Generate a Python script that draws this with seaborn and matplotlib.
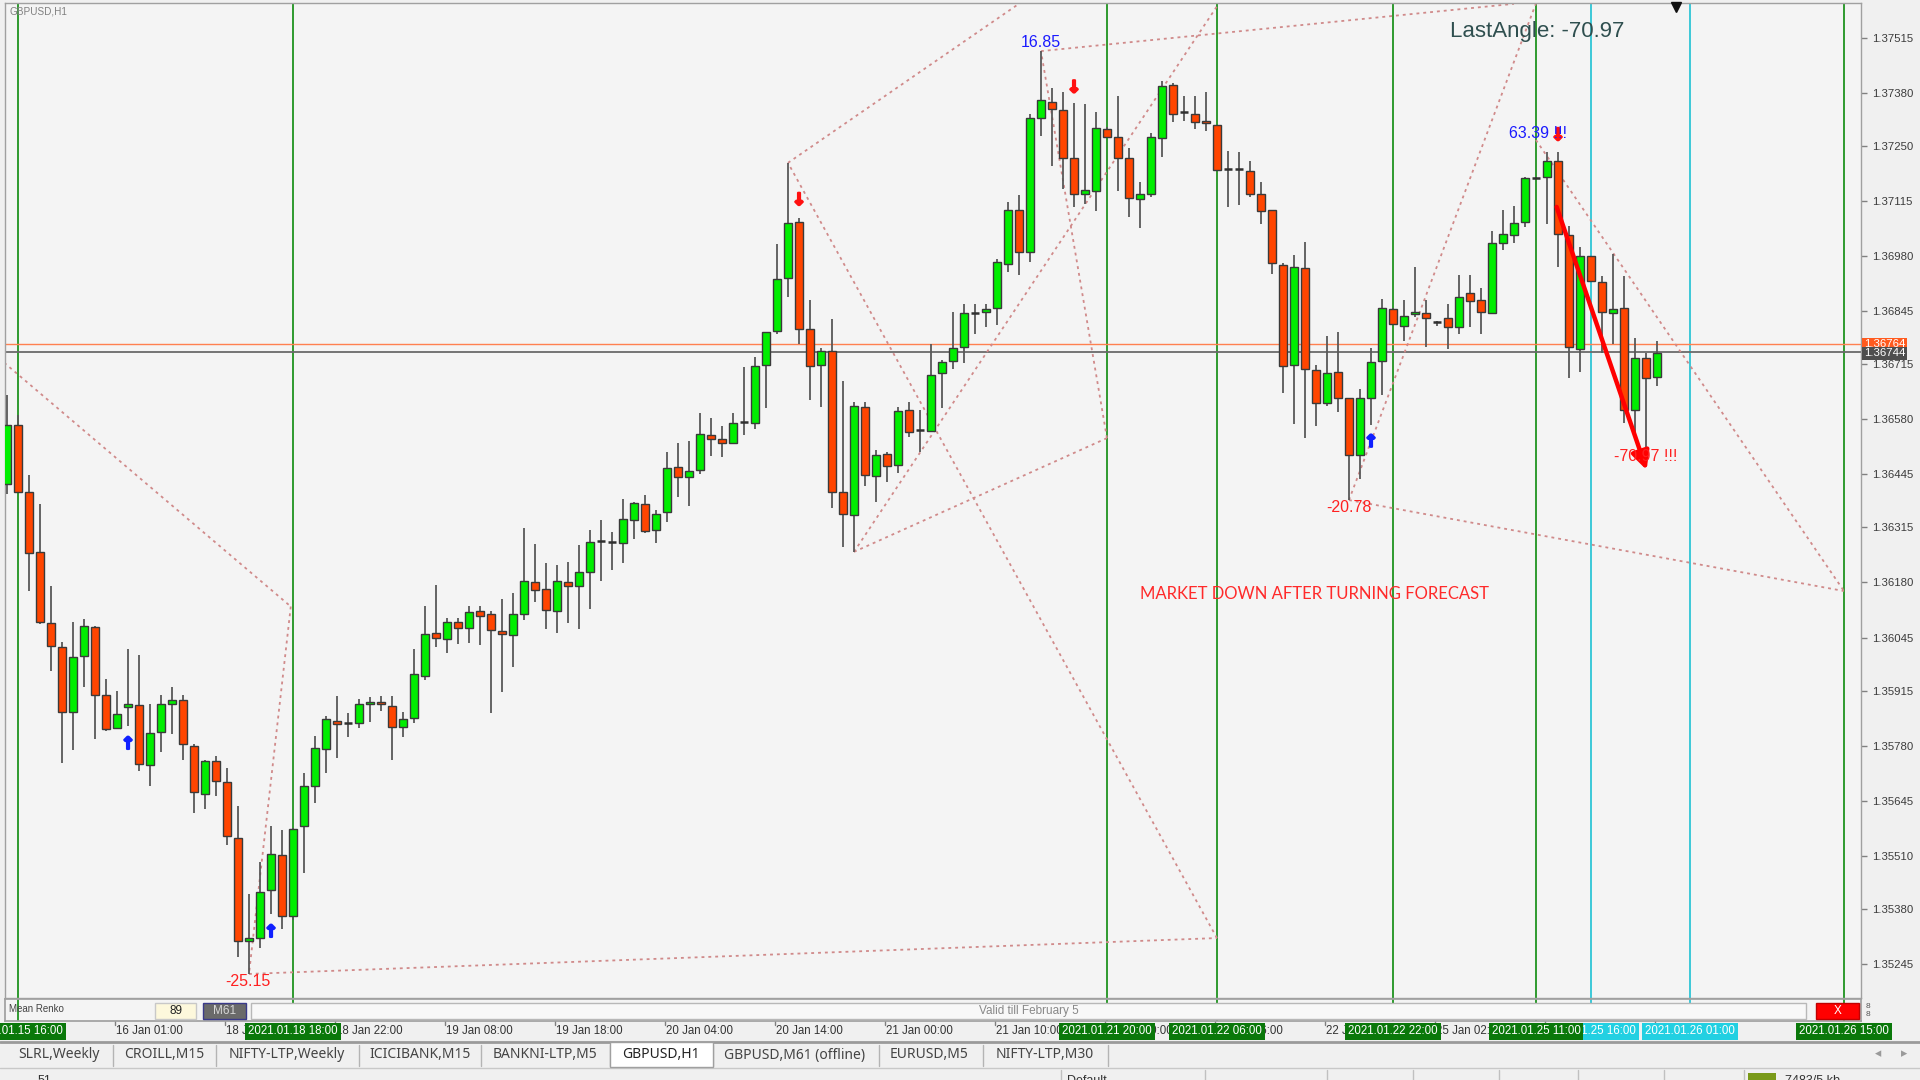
import matplotlib
matplotlib.use("Agg")
import matplotlib.pyplot as plt
import matplotlib.transforms as mtransforms
import matplotlib.patheffects as pe
from matplotlib.patches import Rectangle
import numpy as np
import pandas as pd
import seaborn as sns

# ---------------- data (GBPUSD H1 candles, bar index 0..150) ----------------
opens = [1.36421, 1.36566, 1.36402, 1.36254, 1.36081, 1.36022, 1.35862, 1.35999, 1.36071, 1.35903,
         1.35822, 1.35874, 1.35879, 1.35733, 1.35814, 1.35883, 1.35893, 1.35780, 1.35661, 1.35742,
         1.35691, 1.35553, 1.35302, 1.35309, 1.35426, 1.35511, 1.35361, 1.35584, 1.35681, 1.35771,
         1.35840, 1.35835, 1.35835, 1.35882, 1.35888, 1.35878, 1.35826, 1.35847, 1.35951, 1.36057,
         1.36041, 1.36084, 1.36069, 1.36110, 1.36103, 1.36061, 1.36051, 1.36102, 1.36180, 1.36163,
         1.36111, 1.36180, 1.36172, 1.36206, 1.36282, 1.36280, 1.36278, 1.36333, 1.36372, 1.36309,
         1.36352, 1.36462, 1.36439, 1.36456, 1.36541, 1.36533, 1.36521, 1.36574, 1.36572, 1.36713,
         1.36797, 1.36926, 1.37063, 1.36802, 1.36713, 1.36748, 1.36401, 1.36345, 1.36611, 1.36442,
         1.36494, 1.36468, 1.36603, 1.36554, 1.36552, 1.36693, 1.36723, 1.36758, 1.36842, 1.36843,
         1.36854, 1.36961, 1.37093, 1.36991, 1.37320, 1.37359, 1.37338, 1.37222, 1.37133, 1.37141,
         1.37291, 1.37273, 1.37222, 1.37120, 1.37132, 1.37271, 1.37401, 1.37333, 1.37330, 1.37311,
         1.37303, 1.37193, 1.37193, 1.37189, 1.37133, 1.37093, 1.36958, 1.36713, 1.36952, 1.36700,
         1.36619, 1.36696, 1.36632, 1.36492, 1.36633, 1.36724, 1.36851, 1.36810, 1.36838, 1.36841,
         1.36819, 1.36828, 1.36807, 1.36889, 1.36873, 1.36842, 1.37013, 1.37031, 1.37063, 1.37172,
         1.37175, 1.37213, 1.37032, 1.36752, 1.36980, 1.36917, 1.36842, 1.36852, 1.36603, 1.36731,
         1.36683]
highs = [1.36640, 1.36591, 1.36444, 1.36372, 1.36172, 1.36034, 1.36083, 1.36090, 1.36074, 1.35944,
         1.35914, 1.36017, 1.36003, 1.35883, 1.35905, 1.35924, 1.35905, 1.35783, 1.35745, 1.35755,
         1.35724, 1.35633, 1.35417, 1.35494, 1.35583, 1.35573, 1.35578, 1.35712, 1.35803, 1.35852,
         1.35901, 1.35861, 1.35894, 1.35898, 1.35901, 1.35901, 1.35863, 1.36018, 1.36123, 1.36174,
         1.36094, 1.36092, 1.36122, 1.36122, 1.36111, 1.36139, 1.36153, 1.36314, 1.36274, 1.36227,
         1.36223, 1.36231, 1.36273, 1.36309, 1.36333, 1.36304, 1.36384, 1.36378, 1.36394, 1.36358,
         1.36499, 1.36521, 1.36528, 1.36595, 1.36584, 1.36564, 1.36595, 1.36709, 1.36734, 1.36795,
         1.37011, 1.37209, 1.37073, 1.36873, 1.36754, 1.36825, 1.36675, 1.36622, 1.36622, 1.36505,
         1.36500, 1.36611, 1.36623, 1.36603, 1.36765, 1.36725, 1.36844, 1.36863, 1.36863, 1.36863,
         1.36973, 1.37114, 1.37130, 1.37329, 1.37483, 1.37392, 1.37383, 1.37355, 1.37353, 1.37334,
         1.37298, 1.37374, 1.37245, 1.37163, 1.37281, 1.37410, 1.37404, 1.37374, 1.37374, 1.37383,
         1.37303, 1.37239, 1.37235, 1.37213, 1.37161, 1.37093, 1.36963, 1.36983, 1.37014, 1.36713,
         1.36784, 1.36793, 1.36633, 1.36654, 1.36754, 1.36874, 1.36852, 1.36873, 1.36953, 1.36873,
         1.36822, 1.36863, 1.36934, 1.36934, 1.36901, 1.37043, 1.37093, 1.37103, 1.37175, 1.37174,
         1.37235, 1.37235, 1.37054, 1.37003, 1.36980, 1.36932, 1.36985, 1.36932, 1.36779, 1.36742,
         1.36773]
lows = [1.36397, 1.36399, 1.36160, 1.36078, 1.35964, 1.35738, 1.35769, 1.35924, 1.35797, 1.35816,
        1.35820, 1.35828, 1.35717, 1.35681, 1.35764, 1.35808, 1.35745, 1.35614, 1.35625, 1.35656,
        1.35536, 1.35262, 1.35220, 1.35283, 1.35367, 1.35329, 1.35352, 1.35468, 1.35638, 1.35712,
        1.35749, 1.35800, 1.35822, 1.35839, 1.35865, 1.35745, 1.35800, 1.35835, 1.35941, 1.36021,
        1.36006, 1.36028, 1.36031, 1.36027, 1.35861, 1.35912, 1.35973, 1.36088, 1.36133, 1.36065,
        1.36057, 1.36080, 1.36065, 1.36115, 1.36184, 1.36210, 1.36227, 1.36286, 1.36302, 1.36278,
        1.36329, 1.36390, 1.36368, 1.36446, 1.36490, 1.36488, 1.36519, 1.36542, 1.36556, 1.36609,
        1.36789, 1.36879, 1.36765, 1.36627, 1.36611, 1.36363, 1.36266, 1.36255, 1.36417, 1.36378,
        1.36427, 1.36448, 1.36537, 1.36501, 1.36550, 1.36607, 1.36703, 1.36719, 1.36789, 1.36807,
        1.36811, 1.36941, 1.36934, 1.36967, 1.37275, 1.37201, 1.37146, 1.37101, 1.37108, 1.37092,
        1.37269, 1.37140, 1.37075, 1.37050, 1.37126, 1.37224, 1.37308, 1.37312, 1.37292, 1.37288,
        1.37191, 1.37100, 1.37106, 1.37126, 1.37059, 1.36936, 1.36645, 1.36568, 1.36535, 1.36564,
        1.36613, 1.36599, 1.36382, 1.36433, 1.36566, 1.36640, 1.36811, 1.36773, 1.36832, 1.36757,
        1.36809, 1.36752, 1.36789, 1.36807, 1.36789, 1.36840, 1.36995, 1.37013, 1.37052, 1.37171,
        1.37058, 1.36953, 1.36681, 1.36697, 1.36920, 1.36742, 1.36764, 1.36572, 1.36543, 1.36510,
        1.36662]
closes = [1.36566, 1.36402, 1.36252, 1.36083, 1.36024, 1.35863, 1.35997, 1.36074, 1.35905, 1.35820,
          1.35858, 1.35881, 1.35734, 1.35811, 1.35881, 1.35891, 1.35785, 1.35665, 1.35743, 1.35694,
          1.35558, 1.35302, 1.35308, 1.35421, 1.35513, 1.35363, 1.35576, 1.35681, 1.35773, 1.35844,
          1.35833, 1.35835, 1.35883, 1.35888, 1.35881, 1.35826, 1.35844, 1.35955, 1.36053, 1.36043,
          1.36082, 1.36069, 1.36108, 1.36098, 1.36063, 1.36053, 1.36103, 1.36184, 1.36161, 1.36112,
          1.36184, 1.36171, 1.36205, 1.36280, 1.36282, 1.36280, 1.36335, 1.36374, 1.36307, 1.36348,
          1.36460, 1.36438, 1.36453, 1.36544, 1.36531, 1.36523, 1.36572, 1.36574, 1.36712, 1.36793,
          1.36924, 1.37061, 1.36801, 1.36711, 1.36747, 1.36403, 1.36348, 1.36613, 1.36443, 1.36492,
          1.36466, 1.36601, 1.36548, 1.36554, 1.36689, 1.36721, 1.36756, 1.36841, 1.36842, 1.36851,
          1.36965, 1.37093, 1.36991, 1.37318, 1.37363, 1.37340, 1.37220, 1.37132, 1.37142, 1.37294,
          1.37272, 1.37222, 1.37123, 1.37132, 1.37273, 1.37397, 1.37330, 1.37333, 1.37308, 1.37307,
          1.37191, 1.37193, 1.37193, 1.37132, 1.37092, 1.36963, 1.36711, 1.36953, 1.36703, 1.36621,
          1.36694, 1.36632, 1.36492, 1.36632, 1.36721, 1.36852, 1.36813, 1.36833, 1.36844, 1.36828,
          1.36819, 1.36807, 1.36881, 1.36870, 1.36844, 1.37012, 1.37034, 1.37061, 1.37173, 1.37172,
          1.37214, 1.37034, 1.36757, 1.36981, 1.36920, 1.36844, 1.36851, 1.36603, 1.36730, 1.36682,
          1.36742]

price_ticks = [1.37515, 1.37380, 1.37250, 1.37115, 1.36980, 1.36845, 1.36715, 1.36580, 1.36445,
               1.36315, 1.36180, 1.36045, 1.35915, 1.35780, 1.35645, 1.35510, 1.35380, 1.35245]
ask_price = 1.36764
bid_price = 1.36744

time_label_bars = [10, 20, 30, 40, 50, 60, 70, 80, 90, 100, 110, 120, 130, 140, 150]
time_labels = ["16 Jan 01:00", "18 Jan 12:00", "18 Jan 22:00", "19 Jan 08:00", "19 Jan 18:00",
               "20 Jan 04:00", "20 Jan 14:00", "21 Jan 00:00", "21 Jan 10:00", "21 Jan 20:00",
               "22 Jan 06:00", "22 Jan 16:00", "25 Jan 02:00", "25 Jan 12:00", "25 Jan 22:00"]

vline_bars = [1, 26, 100, 110, 126, 144, 139, 153, 167]
vline_labels = ["2021.01.15 16:00", "2021.01.18 18:00", "2021.01.21 20:00", "2021.01.22 06:00",
                "2021.01.22 22:00", "2021.01.25 16:00", "2021.01.25 11:00", "2021.01.26 01:00",
                "2021.01.26 15:00"]
vline_kinds = ["g", "g", "g", "g", "g", "c", "g", "c", "g"]

# zigzag / angle dotted lines: (bar, price) -> (bar, price)
angle_segments = [
    ((-1.0, 1.36736), (25.8, 1.36121)),
    ((25.8, 1.36121), (22.0, 1.35220)),
    ((22.0, 1.35220), (110.0, 1.35308)),
    ((110.0, 1.35308), (71.0, 1.37209)),
    ((71.0, 1.37209), (92.1, 1.37601)),
    ((77.0, 1.36255), (110.2, 1.37601)),
    ((77.0, 1.36255), (100.0, 1.36534)),
    ((100.0, 1.36534), (94.0, 1.37483)),
    ((94.0, 1.37483), (137.0, 1.37599)),
    ((122.0, 1.36382), (139.0, 1.37600)),
    ((122.0, 1.36382), (167.0, 1.36159)),
    ((139.0, 1.37265), (167.0, 1.36159)),
]
angle_arrow = [(140.88, 1.37101), (149.06, 1.36456)]

value_labels = [("16.85", 94.0, 1.37505, "#1a1aff"),
                ("-25.15", 21.9, 1.35201, "#ff2020"),
                ("-20.78", 122.0, 1.36363, "#ff2020"),
                ("63.39 !!!", 139.2, 1.37282, "#1a1aff"),
                ("-70.97 !!!", 149.0, 1.36489, "#ff2020")]
up_signal_bars = [11, 24, 124]
up_signal_prices = [1.35784, 1.35323, 1.36525]
down_signal_bars = [72, 97, 141]
down_signal_prices = [1.37118, 1.37394, 1.37277]

tabs = ["SLRL,Weekly", "CROILL,M15", "NIFTY-LTP,Weekly", "ICICIBANK,M15", "BANKNI-LTP,M5",
        "GBPUSD,H1", "GBPUSD,M61 (offline)", "EURUSD,M5", "NIFTY-LTP,M30"]
active_tab = "GBPUSD,H1"

# ---------------- style ----------------
sns.set_theme(style="white")
plt.rcParams['font.family'] = ['Liberation Sans', 'DejaVu Sans']

W, H = 1920, 1080
def rect(x0, y0, x1, y1):
    return [x0 / W, 1 - y1 / H, (x1 - x0) / W, (y1 - y0) / H]
def fy(y):
    return 1 - y / H
def fx(x):
    return x / W

fig = plt.figure(figsize=(19.2, 10.8), dpi=100, facecolor='#f0f0f0')
ax = fig.add_axes(rect(5, 3, 1861, 998))
ax.set_facecolor('#f4f4f4')
XLIM = (-0.18, 168.55)
ax.set_xlim(*XLIM)
ax.set_ylim(1.35161, 1.37601)

df = pd.DataFrame(dict(i=np.arange(len(opens)), o=opens, h=highs, l=lows, c=closes))

GREEN_LINE = '#2f9a2f'
CYAN_LINE = '#3cc8d8'
GREEN_BOX = '#0a780a'
CYAN_BOX = '#22d0e2'

# vertical lines
for b, k in zip(vline_bars, vline_kinds):
    ax.axvline(b, color=GREEN_LINE if k == "g" else CYAN_LINE, lw=1.4, zorder=1)

# bid / ask lines
ax.axhline(ask_price, color='#ff8050', lw=1.0, zorder=1)
ax.axhline(bid_price, color='#6a6a6a', lw=1.3, zorder=1)

# dotted angle lines
for (x0, y0), (x1, y1) in angle_segments:
    sns.lineplot(x=[x0, x1], y=[y0, y1], ax=ax, color='#d08a8a', lw=1.3,
                 linestyle=(0, (1.6, 2.2)), sort=False, estimator=None, legend=False, zorder=2)

# candles
ax.vlines(df.i, df.l, df.h, colors='#585858', lw=1.3, zorder=3)
up = df.c > df.o
dn = df.c < df.o
dj = df.c == df.o
ax.bar(df.i[up], (df.c - df.o)[up], bottom=df.o[up], width=0.66, color='#00ee00',
       edgecolor='#3a3a3a', linewidth=1.0, zorder=4)
ax.bar(df.i[dn], (df.o - df.c)[dn], bottom=df.c[dn], width=0.66, color='#ff4500',
       edgecolor='#3a3a3a', linewidth=1.0, zorder=4)
ax.hlines(df.o[dj], df.i[dj] - 0.33, df.i[dj] + 0.33, colors='#303030', lw=1.8, zorder=4)

# angle arrow
ax.annotate('', xy=angle_arrow[1], xytext=angle_arrow[0],
            arrowprops=dict(arrowstyle='-|>,head_length=0.9,head_width=0.45', color='#ff0000',
                            lw=3.2, shrinkA=0, shrinkB=0), zorder=6)

# signal arrows
for b, p in zip(up_signal_bars, up_signal_prices):
    ax.text(b, p, '↑', color='#1020ff', fontsize=12, fontweight='bold', ha='center', va='center',
            family='DejaVu Sans', zorder=6,
            path_effects=[pe.withStroke(linewidth=1.6, foreground='#1020ff')])
for b, p in zip(down_signal_bars, down_signal_prices):
    ax.text(b, p, '↓', color='#ff1010', fontsize=12, fontweight='bold', ha='center', va='center',
            family='DejaVu Sans', zorder=6,
            path_effects=[pe.withStroke(linewidth=1.6, foreground='#ff1010')])

# value labels
for t, b, p, c in value_labels:
    ax.text(b, p, t, color=c, fontsize=11.5, ha='center', va='center', zorder=7)

ax.text(139.1, 1.37532, 'LastAngle: -70.97', color='#2f4f4f', fontsize=16, ha='center',
        va='center', zorder=7)
ax.text(118.9, 1.36152, 'MARKET DOWN AFTER TURNING FORECAST', color='#ff2a2a', fontsize=12,
        ha='center', va='center', family=['Lato', 'DejaVu Sans'], zorder=7)
ax.plot([151.7], [1.37590], marker='v', ms=6.5, color='#111111', clip_on=False, zorder=8)
fig.text(fx(9), fy(11), 'GBPUSD,H1', fontsize=7.2, color='#808080', ha='left', va='center')

# price axis
ax.set_xticks([])
ax.yaxis.tick_right()
ax.set_yticks(price_ticks)
ax.set_yticklabels([f"{p:.5f}" for p in price_ticks])
ax.tick_params(axis='y', length=4, width=1, color='#808080', labelsize=8.2,
               labelcolor='#3c3c3c', pad=4, direction='out')
for s in ax.spines.values():
    s.set_color('#a0a0a0')
    s.set_linewidth(1.0)

ytr = ax.get_yaxis_transform()
ax.text(1.0015, ask_price, f"{ask_price:.5f}", transform=ytr, fontsize=8.2, color='white',
        ha='left', va='center', clip_on=False, zorder=9,
        bbox=dict(boxstyle='square,pad=0.15', fc='#ff5a1e', ec='none'))
ax.text(1.0015, bid_price - 0.00002, f"{bid_price:.5f}", transform=ytr, fontsize=8.2, color='white',
        ha='left', va='center', clip_on=False, zorder=10,
        bbox=dict(boxstyle='square,pad=0.15', fc='#4e4e4e', ec='none'))

# ---------------- indicator sub panel ----------------
ax2 = fig.add_axes(rect(5, 999, 1861, 1021))
ax2.set_facecolor('#f4f4f4')
ax2.set_xlim(*XLIM)
ax2.set_ylim(0, 1)
ax2.set_xticks([]); ax2.set_yticks([])
for s in ax2.spines.values():
    s.set_color('#a0a0a0')
for b, k in zip(vline_bars, vline_kinds):
    ax2.axvline(b, color=GREEN_LINE if k == "g" else CYAN_LINE, lw=1.4, zorder=1)

def box(x0, y0, x1, y1, fc, ec, lw=1.0, z=3):
    fig.add_artist(Rectangle((fx(x0), fy(y1)), (x1 - x0) / W, (y1 - y0) / H,
                             transform=fig.transFigure, fc=fc, ec=ec, lw=lw, zorder=z))

fig.text(fx(9), fy(1009), 'Mean Renko', fontsize=7, color='#444444', ha='left', va='center')
box(155, 1003, 196, 1019, '#fdf8dc', '#c8c8c8')
fig.text(fx(175.5), fy(1011), '89', fontsize=8.5, color='#222222', ha='center', va='center', zorder=5)
box(203, 1003, 246, 1019, '#6a6a6a', '#3a3a8a')
fig.text(fx(224.5), fy(1011), 'M61', fontsize=8.5, color='#d8d8d8', ha='center', va='center', zorder=5)
box(251, 1003, 1806, 1019, '#f8f8f8', '#b8b8b8')
fig.text(fx(1029), fy(1011), 'Valid till February 5', fontsize=8.5, color='#888888',
         ha='center', va='center', zorder=5)
box(1816, 1003, 1859, 1019, '#ff0000', '#c00000')
fig.text(fx(1837.5), fy(1011), 'X', fontsize=8.5, color='white', ha='center', va='center', zorder=5)
fig.text(fx(1866), fy(1006), '8', fontsize=6, color='#555555', ha='left', va='center')
fig.text(fx(1866), fy(1014), '8', fontsize=6, color='#555555', ha='left', va='center')

# ---------------- time axis ----------------
trans = mtransforms.blended_transform_factory(ax.transData, fig.transFigure)
for b, t in zip(time_label_bars, time_labels):
    ax.plot([b - 0.18, b - 0.18], [fy(1021), fy(1025)], color='#808080', lw=1,
            transform=trans, clip_on=False)
    ax.text(b - 0.1, fy(1031.5), t, transform=trans, fontsize=8.3, color='#333333',
            ha='left', va='center', clip_on=False, zorder=5)
for b, t, k in zip(vline_bars, vline_labels, vline_kinds):
    ax.text(b, fy(1031.5), t, transform=trans, fontsize=8.3, color='white', ha='center',
            va='center', clip_on=False, zorder=6,
            bbox=dict(boxstyle='square,pad=0.25', fc=GREEN_BOX if k == "g" else CYAN_BOX, ec='none'))

# ---------------- tab bar ----------------
fig.add_artist(plt.Line2D([0, 1], [fy(1041.5), fy(1041.5)], transform=fig.transFigure,
                          color='#9a9a9a', lw=2))
tab_centers = [58.8, 164, 286.5, 420, 545, 661, 795, 929, 1044.5]
tab_seps = [112.7, 215.5, 358.8, 481, 610, 712.6, 879, 983, 1108]
box(610, 1042, 712.6, 1067, 'white', '#a0a0a0')
for sx in tab_seps:
    fig.add_artist(plt.Line2D([fx(sx), fx(sx)], [fy(1045), fy(1066)], transform=fig.transFigure,
                              color='#b4b4b4', lw=1))
for c, t in zip(tab_centers, tabs):
    fig.text(fx(c), fy(1055), t, fontsize=10, color='#222222' if t == active_tab else '#444444',
             ha='center', va='center', family=['Noto Sans', 'DejaVu Sans'], zorder=5)
fig.text(fx(1878), fy(1054), '◂', fontsize=9, color='#9a9a9a', ha='center', va='center',
         family='DejaVu Sans')
fig.text(fx(1904), fy(1054), '▸', fontsize=9, color='#9a9a9a', ha='center', va='center',
         family='DejaVu Sans')

# status bar
fig.add_artist(plt.Line2D([0, 1], [fy(1068), fy(1068)], transform=fig.transFigure,
                          color='#c8c8c8', lw=1))
for sx in [1061, 1205, 1327, 1413, 1499, 1578, 1664, 1744]:
    fig.add_artist(plt.Line2D([fx(sx), fx(sx)], [fy(1070), fy(1080)], transform=fig.transFigure,
                              color='#c0c0c0', lw=1))
fig.text(fx(38), fy(1081), '51', fontsize=9, color='#333333', ha='left', va='center')
fig.text(fx(1067), fy(1081), 'Default', fontsize=9, color='#333333', ha='left', va='center')
fig.text(fx(1785), fy(1081), '7483/5 kb', fontsize=9, color='#333333', ha='left', va='center')
box(1748, 1073, 1776, 1080, '#7a9a1a', 'none')

fig.savefig('out.png', dpi=100, facecolor=fig.get_facecolor())
